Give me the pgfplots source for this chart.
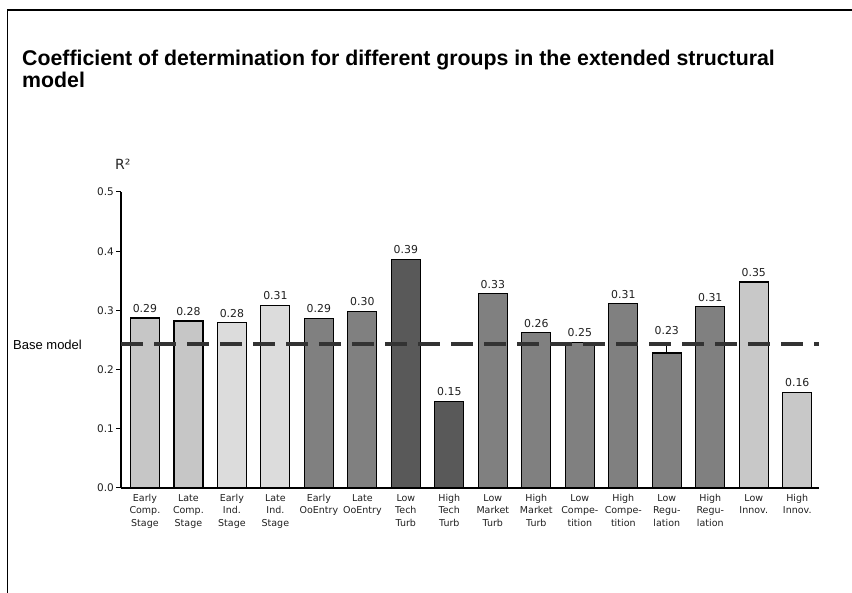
\documentclass[border=0pt]{standalone}
\usepackage{pgfplots}
\pgfplotsset{compat=1.18}
\usepackage{fontspec}
\setmainfont{Liberation Sans}
\newfontfamily\dv{DejaVu Sans}
\definecolor{gA}{HTML}{C6C6C6}
\definecolor{gB}{HTML}{DCDCDC}
\definecolor{gC}{HTML}{808080}
\definecolor{gD}{HTML}{595959}
\definecolor{gE}{HTML}{C8C8C8}
\definecolor{dashc}{HTML}{333333}
\begin{document}
\begin{tikzpicture}[x=1pt,y=1pt]
\useasboundingbox (0pt,0pt) rectangle (852pt,593pt);
\draw[line width=1.4pt, black] (7.5pt,-2pt) -- (7.5pt,583pt) -- (855pt,583pt);
\node[anchor=base west, align=left, inner sep=0pt, font=\bfseries\fontsize{21.3}{22}\selectfont] at (22pt,505pt) {Coefficient of determination for different groups in the extended structural\\model};
\node[anchor=base west, font=\dv\fontsize{14}{16}\selectfont, inner sep=0pt, text=black!85] at (115pt,423pt) {R²};
\node[anchor=base west, font=\fontsize{13}{15}\selectfont, inner sep=0pt] at (13pt,243pt) {Base model};
\begin{axis}[
  at={(121pt,105pt)}, anchor=south west,
  scale only axis, width=698pt, height=296pt,
  xmin=-0.55, xmax=15.5, ymin=0, ymax=0.5,
  axis lines=left, axis line style={-, line width=1.3pt},
  ybar, bar width=29pt,
  xtick={0,...,15},
  xticklabels={{Early\\Comp.\\Stage},{Late\\Comp.\\Stage},{Early\\Ind.\\Stage},{Late\\Ind.\\Stage},{Early\\OoEntry},{Late\\OoEntry},{Low\\Tech\\Turb},{High\\Tech\\Turb},{Low\\Market\\Turb},{High\\Market\\Turb},{Low\\Compe-\\tition},{High\\Compe-\\tition},{Low\\Regu-\\lation},{High\\Regu-\\lation},{Low\\Innov.},{High\\Innov.}},
  xticklabel style={font=\dv\fontsize{9.5}{12.5}\selectfont, align=center, inner sep=1pt, text=black!88},
  x tick style={draw=none},
  ytick={0,0.1,0.2,0.3,0.4,0.5},
  yticklabel style={font=\dv\fontsize{10.5}{12}\selectfont, text=black!88, inner sep=2pt},
  yticklabel={\pgfmathprintnumber[fixed,fixed zerofill,precision=1]{\tick}},
  y tick style={black, line width=1pt},
  tick align=outside, major tick length=5pt,
  /pgf/number format/assume math mode=true,
  nodes near coords={\pgfmathprintnumber[fixed,fixed zerofill,precision=2]{\pgfplotspointmeta}},
  nodes near coords style={font=\dv\fontsize{10.9}{12}\selectfont, text=black!88, inner sep=0pt, anchor=south, yshift=5pt},
  clip=false,
]
\addplot[fill=gA, draw=black, line width=1.2pt, bar shift=0pt] coordinates {(0,0.287) (1,0.282)};
\addplot[fill=gB, draw=black, line width=1.2pt, bar shift=0pt] coordinates {(2,0.279) (3,0.308)};
\addplot[fill=gC, draw=black, line width=1.2pt, bar shift=0pt] coordinates {(4,0.286) (5,0.298) (8,0.328) (9,0.262) (10,0.246) (11,0.311) (13,0.306)};
\addplot[fill=gC, draw=black, line width=1.2pt, bar shift=0pt, nodes near coords style={yshift=13pt}] coordinates {(12,0.228)};
\addplot[fill=gD, draw=black, line width=1.2pt, bar shift=0pt] coordinates {(6,0.386) (7,0.146)};
\addplot[fill=gE, draw=black, line width=1.2pt, bar shift=0pt] coordinates {(14,0.348) (15,0.161)};
\draw[black, line width=0.8pt] (axis cs:12,0.228) -- ++(0pt,7pt);
\addplot[sharp plot, no marks, nodes near coords={}, draw=dashc, line width=4pt, dash pattern=on 21.5pt off 11.5pt] coordinates {(-0.55,0.243) (15.5,0.243)};
\end{axis}
\end{tikzpicture}
\end{document}
